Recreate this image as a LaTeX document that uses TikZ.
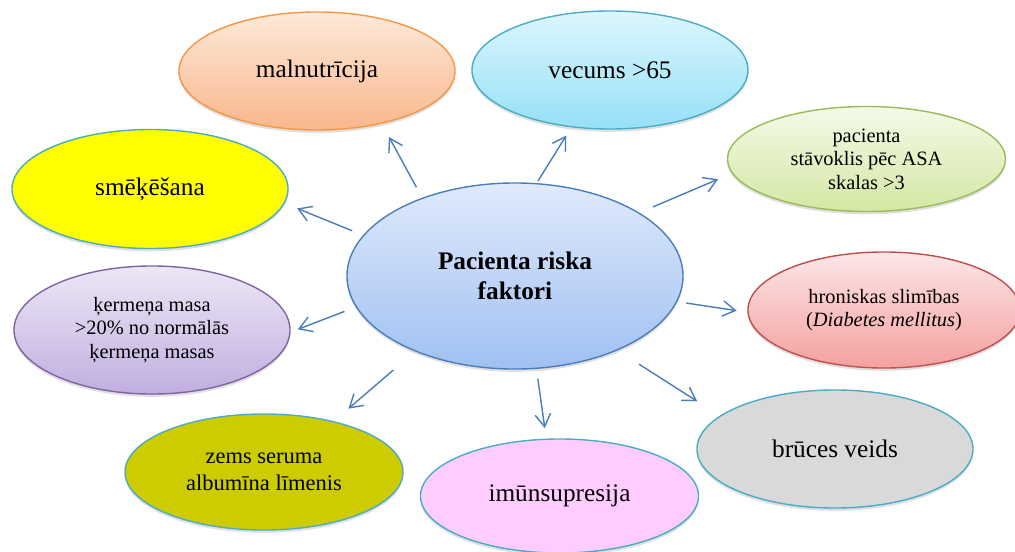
\documentclass[tikz,border=0pt]{standalone}
\usepackage{fontspec}
\setmainfont{Liberation Serif}
\usepackage{xcolor}
\usepackage{tikz}
\usetikzlibrary{shapes.geometric, arrows.meta, shadows}

\definecolor{arrowblue}{RGB}{74,126,187}
\definecolor{rimblue}{RGB}{75,172,198}

\begin{document}
\begin{tikzpicture}[x=0.025cm, y=-0.025cm,
    factor/.style={ellipse, draw=rimblue, line width=1pt, inner sep=0pt, outer sep=0pt,
        minimum width=6.9cm, minimum height=2.95cm, align=center,
        font=\fontsize{18}{21}\selectfont,
        drop shadow={shadow xshift=0pt, shadow yshift=-2pt, opacity=0.25}},
    small/.style={font=\fontsize{14.5}{16.8}\selectfont},
    arr/.style={-{Straight Barb[length=9pt, width=11pt]}, arrowblue, line width=1pt}]
\useasboundingbox (0,0) rectangle (1015,552);

% centre
\node[factor, draw=arrowblue, minimum width=8.4cm, minimum height=4.65cm,
      top color={rgb,255:red,224;green,234;blue,252}, bottom color={rgb,255:red,160;green,192;blue,242},
      font=\fontsize{18}{21.5}\selectfont\bfseries] (c) at (515,276) {Pacienta riska\\faktori};

% factors round it
\node[factor, draw={rgb,255:red,247;green,150;blue,70},
      top color={rgb,255:red,253;green,233;blue,217}, bottom color={rgb,255:red,249;green,183;blue,140}]
      (m) at (317,71) {malnutrīcija};
\node[factor, minimum width=6.9cm,
      top color={rgb,255:red,220;green,246;blue,253}, bottom color={rgb,255:red,150;green,224;blue,247}]
      (v) at (610,70) {vecums >65};
\node[factor, small, minimum width=6.95cm, minimum height=2.625cm, draw={rgb,255:red,155;green,187;blue,89},
      top color={rgb,255:red,244;green,249;blue,232}, bottom color={rgb,255:red,212;green,232;blue,164}]
      (p) at (866.5,159) {pacienta\\stāvoklis pēc ASA\\skalas >3};
\node[factor, small, minimum width=6.8cm, minimum height=2.9cm, draw={rgb,255:red,192;green,80;blue,77},
      top color={rgb,255:red,252;green,230;blue,230}, bottom color={rgb,255:red,245;green,160;blue,160}]
      (h) at (884,310) {hroniskas slimības\\(\textit{Diabetes mellitus})};
\node[factor, fill={rgb,255:red,217;green,217;blue,217}] (b) at (835,449) {brūces veids};
\node[factor, minimum width=6.95cm, minimum height=2.85cm, fill={rgb,255:red,255;green,204;blue,255}]
      (i) at (559.5,496) {imūnsupresija};
\node[factor, minimum width=6.95cm, minimum height=2.9cm, fill={rgb,255:red,204;green,204;blue,0},
      font=\fontsize{16}{19}\selectfont] (z) at (264,472) {zems seruma\\albumīna līmenis};
\node[factor, small, minimum height=3.2cm, draw={rgb,255:red,128;green,100;blue,162},
      top color={rgb,255:red,237;green,231;blue,245}, bottom color={rgb,255:red,193;green,174;blue,224}]
      (k) at (152,330) {ķermeņa masa\\>20\% no normālās\\ķermeņa masas};
\node[factor, minimum height=2.975cm, fill={rgb,255:red,255;green,255;blue,0}] (s) at (150,189) {smēķēšana};

% arrows
\foreach \n/\a/\b/\s/\e in {m/140.7/321.9/8.9pt/11.2pt, v/77.0/236.6/2.3pt/7.4pt,
    p/27.9/186.0/11.1pt/11.2pt, h/351.7/181.7/7.0pt/8.2pt, b/324.6/164.6/18.7pt/19.6pt,
    i/283.8/103.0/7.5pt/8.0pt, z/217.5/36.8/20.8pt/14.2pt, k/191.4/359.7/9.1pt/6.0pt,
    s/165.1/354.0/8.9pt/10.0pt}
    \draw[arr, shorten <=\s, shorten >=\e] (c.\a) -- (\n.\b);
\end{tikzpicture}
\end{document}
